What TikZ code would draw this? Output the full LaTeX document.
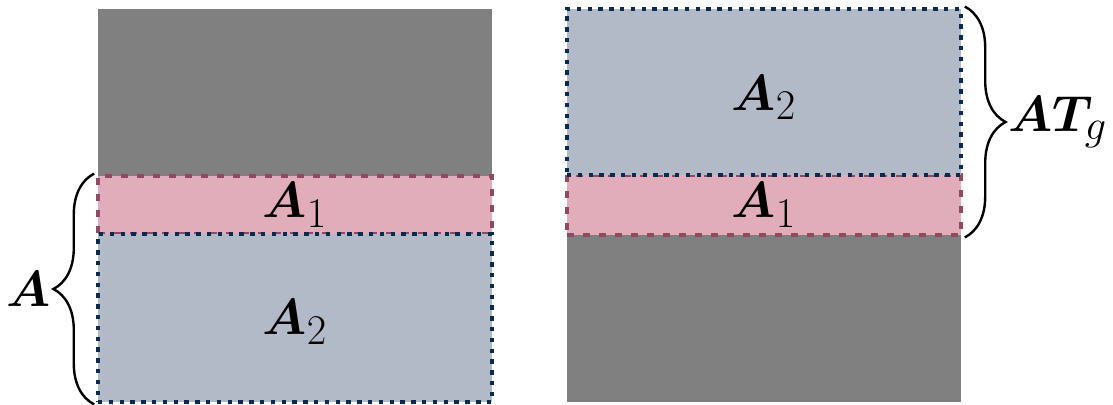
\documentclass[tikz,border=0pt]{standalone}
\usepackage{amsmath,bm}
\usepackage{tikz}
\usetikzlibrary{fit, decorations.pathreplacing}
\definecolor{blkgray}{HTML}{808080}
\definecolor{blkpink}{HTML}{E2ADBB}
\definecolor{blkblue}{HTML}{B3BAC7}
\definecolor{edgeblue}{HTML}{0B2A50}
\definecolor{edgepink}{HTML}{8F4A62}
\tikzset{
  graybox/.style={fill=blkgray, inner sep=0pt, draw=none},
  pinkbox/.style={fill=blkpink, inner sep=0pt, draw=edgepink, line width=1.2mm, dash pattern=on 1.8mm off 2.2mm},
  bluebox/.style={fill=blkblue, inner sep=0pt, draw=edgeblue, line width=1.2mm, dash pattern=on 1.1mm off 1.6mm},
  blocklabel/.style={font=\Huge, inner sep=0pt, scale=1.45, transform shape},
  bracedeco/.style={decorate, decoration={brace, amplitude=1.02cm}, line width=0.6mm}
}

\begin{document}
\begin{tikzpicture}[x=0.025cm, y=-0.025cm]
  \useasboundingbox (0,0) rectangle (1113,405);

  % left column
  \node[graybox, fit={(98,9) (492,176)}] (lgray) {};
  \node[pinkbox, fit={(98,176) (492,234)}] (lpink) {};
  \node[bluebox, fit={(98,234) (492,402)}] (lblue) {};
  \node[blocklabel] at (lpink.center) {$\bm{A}_1$};
  \node[blocklabel] at ([yshift=-3pt]lblue.center) {$\bm{A}_2$};

  % right column
  \node[graybox, fit={(567,235) (961,402)}] (rgray) {};
  \node[pinkbox, fit={(567,175) (961,235)}] (rpink) {};
  \node[bluebox, fit={(567,9) (961,175)}] (rblue) {};
  \node[blocklabel] at (rpink.center) {$\bm{A}_1$};
  \node[blocklabel] at ([yshift=-4pt]rblue.center) {$\bm{A}_2$};

  % braces
  \draw[bracedeco] ([xshift=-1pt]lblue.south west) -- ([xshift=-1pt]lpink.north west)
    node[midway, left=1.05cm, blocklabel] (lbl) {$\bm{A}$};
  \draw[bracedeco] ([xshift=1pt]rblue.north east) -- ([xshift=1pt]rpink.south east)
    node[midway, right=1.05cm, blocklabel] (rbl) {$\bm{A}\bm{T}_g$};
\end{tikzpicture}
\end{document}
